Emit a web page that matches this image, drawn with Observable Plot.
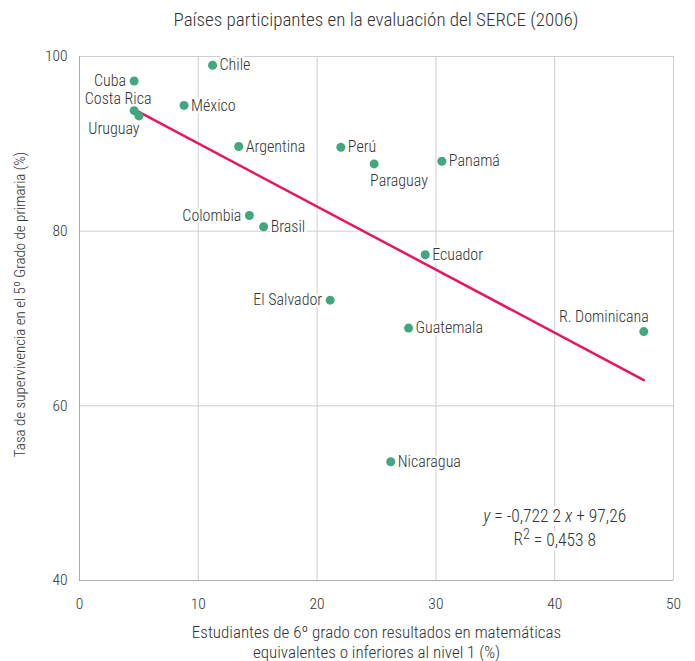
<!DOCTYPE html>
<html>
<head>
<meta charset="utf-8">
<script src="https://cdn.jsdelivr.net/npm/d3@7"></script>
<script src="https://cdn.jsdelivr.net/npm/@observablehq/plot@0.6"></script>
<style>
  body { margin: 0; background: #fff; font-family: "Roboto Condensed", "DejaVu Sans Condensed", sans-serif; font-weight: 300; overflow: hidden; }
  #title { height: 40px; line-height: 40px; width: 594px; padding-left: 79px; text-align: center; font-size: 19px; color: #333; }
  #chart svg { display: block; }
</style>
</head>
<body>
<div id="title">Países participantes en la evaluación del SERCE (2006)</div>
<div id="chart"></div>
<script>
const countries = ["Cuba","Costa Rica","Uruguay","Chile","México","Argentina","Perú","Paraguay","Panamá","Colombia","Brasil","Ecuador","El Salvador","Guatemala","R. Dominicana","Nicaragua"];
const pctBelowLevel1 = [4.6, 4.6, 5.0, 11.2, 8.8, 13.4, 22.0, 24.8, 30.5, 14.3, 15.5, 29.1, 21.1, 27.7, 47.5, 26.2];
const survivalRate = [97.2, 93.8, 93.2, 99.0, 94.4, 89.7, 89.6, 87.7, 88.0, 81.8, 80.5, 77.3, 72.1, 68.9, 68.5, 53.6];
const xTicks = [0, 10, 20, 30, 40, 50];
const yTicks = [40, 60, 80, 100];
const slope = -0.7222, intercept = 97.26;
const eqLines = ["y = -0,722 2 x + 97,26", "R2 = 0,453 8"];

const data = countries.map((c, i) => ({country: c, x: pctBelowLevel1[i], y: survivalRate[i]}));
const xMin = d3.min(pctBelowLevel1), xMax = d3.max(pctBelowLevel1);
const fit = [xMin, xMax].map(x => ({x, y: slope * x + intercept}));

// label placement (style, kept out of data arrays)
const place = {
  "Cuba": {a: "end", dx: -8, dy: 0},
  "Costa Rica": {a: "middle", dx: -16, dy: -12},
  "Uruguay": {a: "middle", dx: -25, dy: 13},
  "Paraguay": {a: "start", dx: -4, dy: 17},
  "Colombia": {a: "end", dx: -8, dy: 0},
  "El Salvador": {a: "end", dx: -8, dy: 0},
  "R. Dominicana": {a: "end", dx: 5, dy: -15}
};
const pl = c => place[c] || {a: "start", dx: 7, dy: 0};
const groups = d3.groups(data, d => { const p = pl(d.country); return p.a + "|" + p.dx + "|" + p.dy; });

const textColor = "#333";
const font = "\"Roboto Condensed\", \"DejaVu Sans Condensed\", sans-serif";

const marks = [
  Plot.gridX(xTicks, {stroke: "#cfcfcf", strokeOpacity: 1, strokeWidth: 1}),
  Plot.gridY(yTicks, {stroke: "#cfcfcf", strokeOpacity: 1, strokeWidth: 1}),
  Plot.axisX(xTicks, {tickSize: 0, tickPadding: 17, fontSize: 15.5, fill: textColor, label: null}),
  Plot.axisY(yTicks, {tickSize: 0, tickPadding: 12, fontSize: 15.5, fill: textColor, label: null}),
  Plot.ruleX([0], {stroke: "#aaa"}),
  Plot.ruleY([40], {stroke: "#aaa"}),
  ...groups.map(([key, g]) => {
    const p = pl(g[0].country);
    return Plot.text(g, {x: "x", y: "y", text: "country", textAnchor: p.a, dx: p.dx, dy: p.dy,
      fontSize: 16, fill: textColor, stroke: "white", strokeWidth: 5});
  }),
  Plot.line(fit, {x: "x", y: "y", stroke: "#e8175d", strokeWidth: 2.5}),
  Plot.dot(data, {x: "x", y: "y", r: 4.5, fill: "#42a67f", stroke: "none"}),
  Plot.text(eqLines, {x: () => 40, y: (d, i) => [47.3, 44.7][i], text: d => d, textAnchor: "middle",
    fontSize: 17.5, fill: textColor, stroke: "white", strokeWidth: 6, className: "eq"}),
  Plot.text(["Tasa de supervivencia en el 5º Grado de primaria (%)"], {frameAnchor: "left", dx: -59, dy: -14, rotate: -90, text: d => d, fontSize: 15, fill: textColor, textAnchor: "middle"}),
  Plot.text(["Estudiantes de 6º grado con resultados en matemáticas\nequivalentes o inferiores al nivel 1 (%)"], {frameAnchor: "bottom", lineAnchor: "middle", dy: 61.5, text: d => d, fontSize: 17, fill: textColor, textAnchor: "middle", lineHeight: 1.18})
];

const chart = Plot.plot({
  width: 695,
  height: 621,
  marginTop: 16,
  marginLeft: 79,
  marginRight: 22,
  marginBottom: 81,
  style: {fontFamily: font, fontWeight: 300, background: "white", overflow: "visible"},
  x: {domain: [0, 50]},
  y: {domain: [40, 100]},
  marks
});
document.getElementById("chart").appendChild(chart);

// Italic variables and superscript in the equation text
d3.select(chart).selectAll("g.eq text").each(function(d, i) {
  const t = d3.select(this);
  const s = t.text();
  t.text(null);
  if (s.startsWith("y")) {
    t.append("tspan").attr("font-style", "italic").text("y");
    const rest = s.slice(1);
    const xi = rest.indexOf(" x ");
    t.append("tspan").text(rest.slice(0, xi + 1));
    t.append("tspan").attr("font-style", "italic").text("x");
    t.append("tspan").text(rest.slice(xi + 2));
  } else {
    t.append("tspan").text("R");
    t.append("tspan").attr("dy", "-0.4em").attr("font-size", "0.8em").text("2");
    t.append("tspan").attr("dy", "0.4em").text(s.slice(2));
  }
});
</script>
</body>
</html>
